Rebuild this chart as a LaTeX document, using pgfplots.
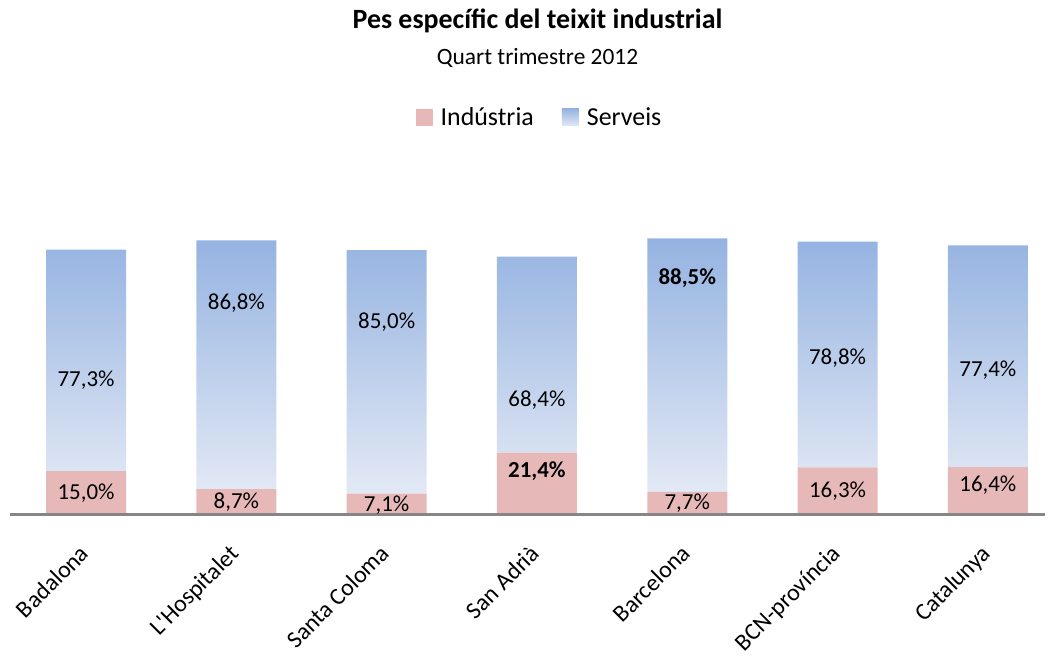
\documentclass[border=0pt]{standalone}
\usepackage{pgfplots}
\pgfplotsset{compat=1.18}
\usepackage{fontspec}
\setmainfont{Carlito}
\definecolor{indu}{HTML}{E6B9B8}
\definecolor{servtop}{HTML}{95B3E1}
\definecolor{servbot}{HTML}{E3E9F5}
\definecolor{axisgray}{HTML}{868686}
\newcommand{\lbl}{\fontsize{23}{27}\selectfont}
\begin{document}
\begin{tikzpicture}
\begin{axis}[
  axis on top,
  scale only axis, width=1035bp, height=314bp,
  xmin=-0.506, xmax=6.38, ymin=0, ymax=109.6,
  ybar stacked, bar width=80bp,
  axis x line*=bottom, axis y line=none,
  x axis line style={axisgray, line width=3bp, -},
  xtick={0,...,6},
  xticklabels={Badalona, L\textquotesingle Hospitalet, Santa Coloma, San Adrià, Barcelona, BCN-província, Catalunya},
  major tick length=0pt,
  x tick label style={rotate=45, anchor=north east, font=\fontsize{24}{28}\selectfont, inner sep=0pt, yshift=-15bp, xshift=-26bp},
  legend columns=2,
  legend style={draw=none, at={(0.5,1)}, anchor=center, yshift=83bp, xshift=12bp,
    font=\fontsize{26}{30}\selectfont,
    /tikz/every odd column/.append style={column sep=6bp},
    /tikz/every even column/.append style={column sep=26bp}},
  legend image code/.code={\path[#1, draw=none] (0bp,-9bp) rectangle (17bp,8bp);},
]
\addplot[fill=indu, draw=none] coordinates {(0,15.0) (1,8.7) (2,7.1) (3,21.4) (4,7.7) (5,16.3) (6,16.4)};
\addplot[draw=none, top color=servtop, bottom color=servbot] coordinates {(0,77.3) (1,86.8) (2,85.0) (3,68.4) (4,88.5) (5,78.8) (6,77.4)};
\legend{Indústria, Serveis}
% label anchors (label positions as set in the original chart)
\coordinate (i0) at (axis cs:0,7.3);
\coordinate (i1) at (axis cs:1,4.2);
\coordinate (i2) at (axis cs:2,3.1);
\coordinate (i3) at (axis cs:3,15.0);
\coordinate (i4) at (axis cs:4,3.8);
\coordinate (i5) at (axis cs:5,8.0);
\coordinate (i6) at (axis cs:6,10.1);
\coordinate (s0) at (axis cs:0,46.8);
\coordinate (s1) at (axis cs:1,73.6);
\coordinate (s2) at (axis cs:2,67.0);
\coordinate (s3) at (axis cs:3,39.8);
\coordinate (s4) at (axis cs:4,82.4);
\coordinate (s5) at (axis cs:5,54.5);
\coordinate (s6) at (axis cs:6,50.3);
\end{axis}
\begin{scope}[every node/.style={font=\lbl}]
\node at (i0) {15,0\%};
\node at (i1) {8,7\%};
\node at (i2) {7,1\%};
\node[font=\lbl\bfseries] at (i3) {21,4\%};
\node at (i4) {7,7\%};
\node at (i5) {16,3\%};
\node at (i6) {16,4\%};
\node at (s0) {77,3\%};
\node at (s1) {86,8\%};
\node at (s2) {85,0\%};
\node at (s3) {68,4\%};
\node[font=\lbl\bfseries] at (s4) {88,5\%};
\node at (s5) {78,8\%};
\node at (s6) {77,4\%};
\end{scope}
\node[font=\fontsize{28}{32}\selectfont\bfseries] at ([xshift=10bp,yshift=493bp]current axis.south) {Pes específic del teixit industrial};
\node[font=\fontsize{23.5}{28}\selectfont] at ([xshift=10bp,yshift=456bp]current axis.south) {Quart trimestre 2012};
\path[use as bounding box] ([xshift=-10bp,yshift=-143bp]current axis.south west) rectangle ++(1052bp,657bp);
\end{tikzpicture}
\end{document}
